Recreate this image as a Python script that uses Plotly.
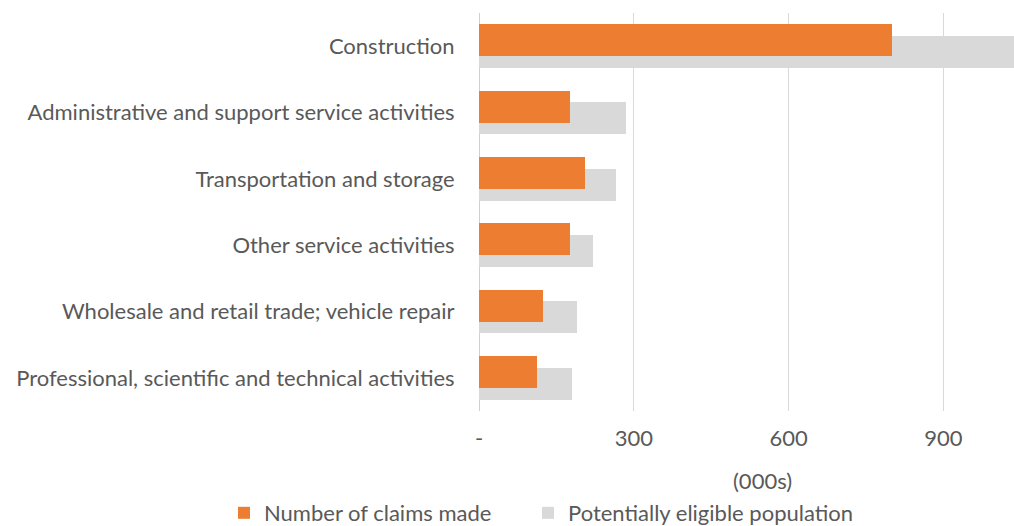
import plotly.graph_objects as go

categories = [
    "Construction",
    "Administrative and support service activities",
    "Transportation and storage",
    "Other service activities",
    "Wholesale and retail trade; vehicle repair",
    "Professional, scientific and technical activities",
]
claims = [801, 176, 205, 177, 125, 112]
eligible = [1100, 284, 265, 220, 189, 180]
x_ticks = [0, 300, 600, 900]
x_tick_labels = ["-", "300", "600", "900"]

FONT = "Lato"
TXT = "#595959"
FS = 22

W, H = 1014, 526
L, R, T, B = 479, 0, 13, 115
PW, PH = W - L - R, H - T - B
bw = 0.483
shift = 0.086


def px_x(px):
    return (px - L) / PW


def px_y(py):
    return (H - B - py) / PH


fig = go.Figure()
fig.add_trace(go.Bar(
    y=categories, x=eligible, orientation="h", name="Potentially eligible population",
    marker=dict(color="#d9d9d9", line=dict(width=0)),
    width=bw, offset=shift - bw / 2, legend="legend2", showlegend=True,
))
fig.add_trace(go.Bar(
    y=categories, x=claims, orientation="h", name="Number of claims made",
    marker=dict(color="#ed7d31", line=dict(width=0)),
    width=bw, offset=-shift - bw / 2, legend="legend", showlegend=True,
))

leg_common = dict(orientation="h", xanchor="left", yanchor="middle", y=px_y(513),
                  font=dict(size=FS, color=TXT), itemwidth=30, bgcolor="rgba(0,0,0,0)",
                  visible=True)

fig.update_layout(
    width=W, height=H,
    margin=dict(l=L, r=R, t=T, b=B, autoexpand=False),
    barmode="overlay", showlegend=True,
    plot_bgcolor="white", paper_bgcolor="white",
    font=dict(family=FONT, size=FS, color=TXT),
    legend=dict(x=px_x(224), **leg_common),
    legend2=dict(x=px_x(528), **leg_common),
    bargap=0,
)
fig.update_xaxes(
    range=[0, 1037], tickvals=x_ticks, ticktext=x_tick_labels,
    showgrid=True, gridcolor="#d9d9d9", gridwidth=1.3,
    zeroline=True, zerolinecolor="#d0d0d0", zerolinewidth=1.3,
    showline=False, ticks="outside", ticklen=8, tickcolor="rgba(0,0,0,0)",
    tickfont=dict(size=FS, color=TXT),
)
fig.update_yaxes(
    autorange="reversed", showgrid=False, zeroline=False, showline=False,
    ticks="outside", ticklen=19, tickcolor="rgba(0,0,0,0)",
    tickfont=dict(size=FS, color=TXT),
)
fig.add_annotation(
    text="(000s)", xref="paper", yref="paper", x=px_x(762), y=px_y(480),
    showarrow=False, xanchor="center", yanchor="middle", font=dict(size=FS, color=TXT),
)

fig.write_html("out.html", config={"displayModeBar": False},
               post_script="document.body.style.margin='0';")
